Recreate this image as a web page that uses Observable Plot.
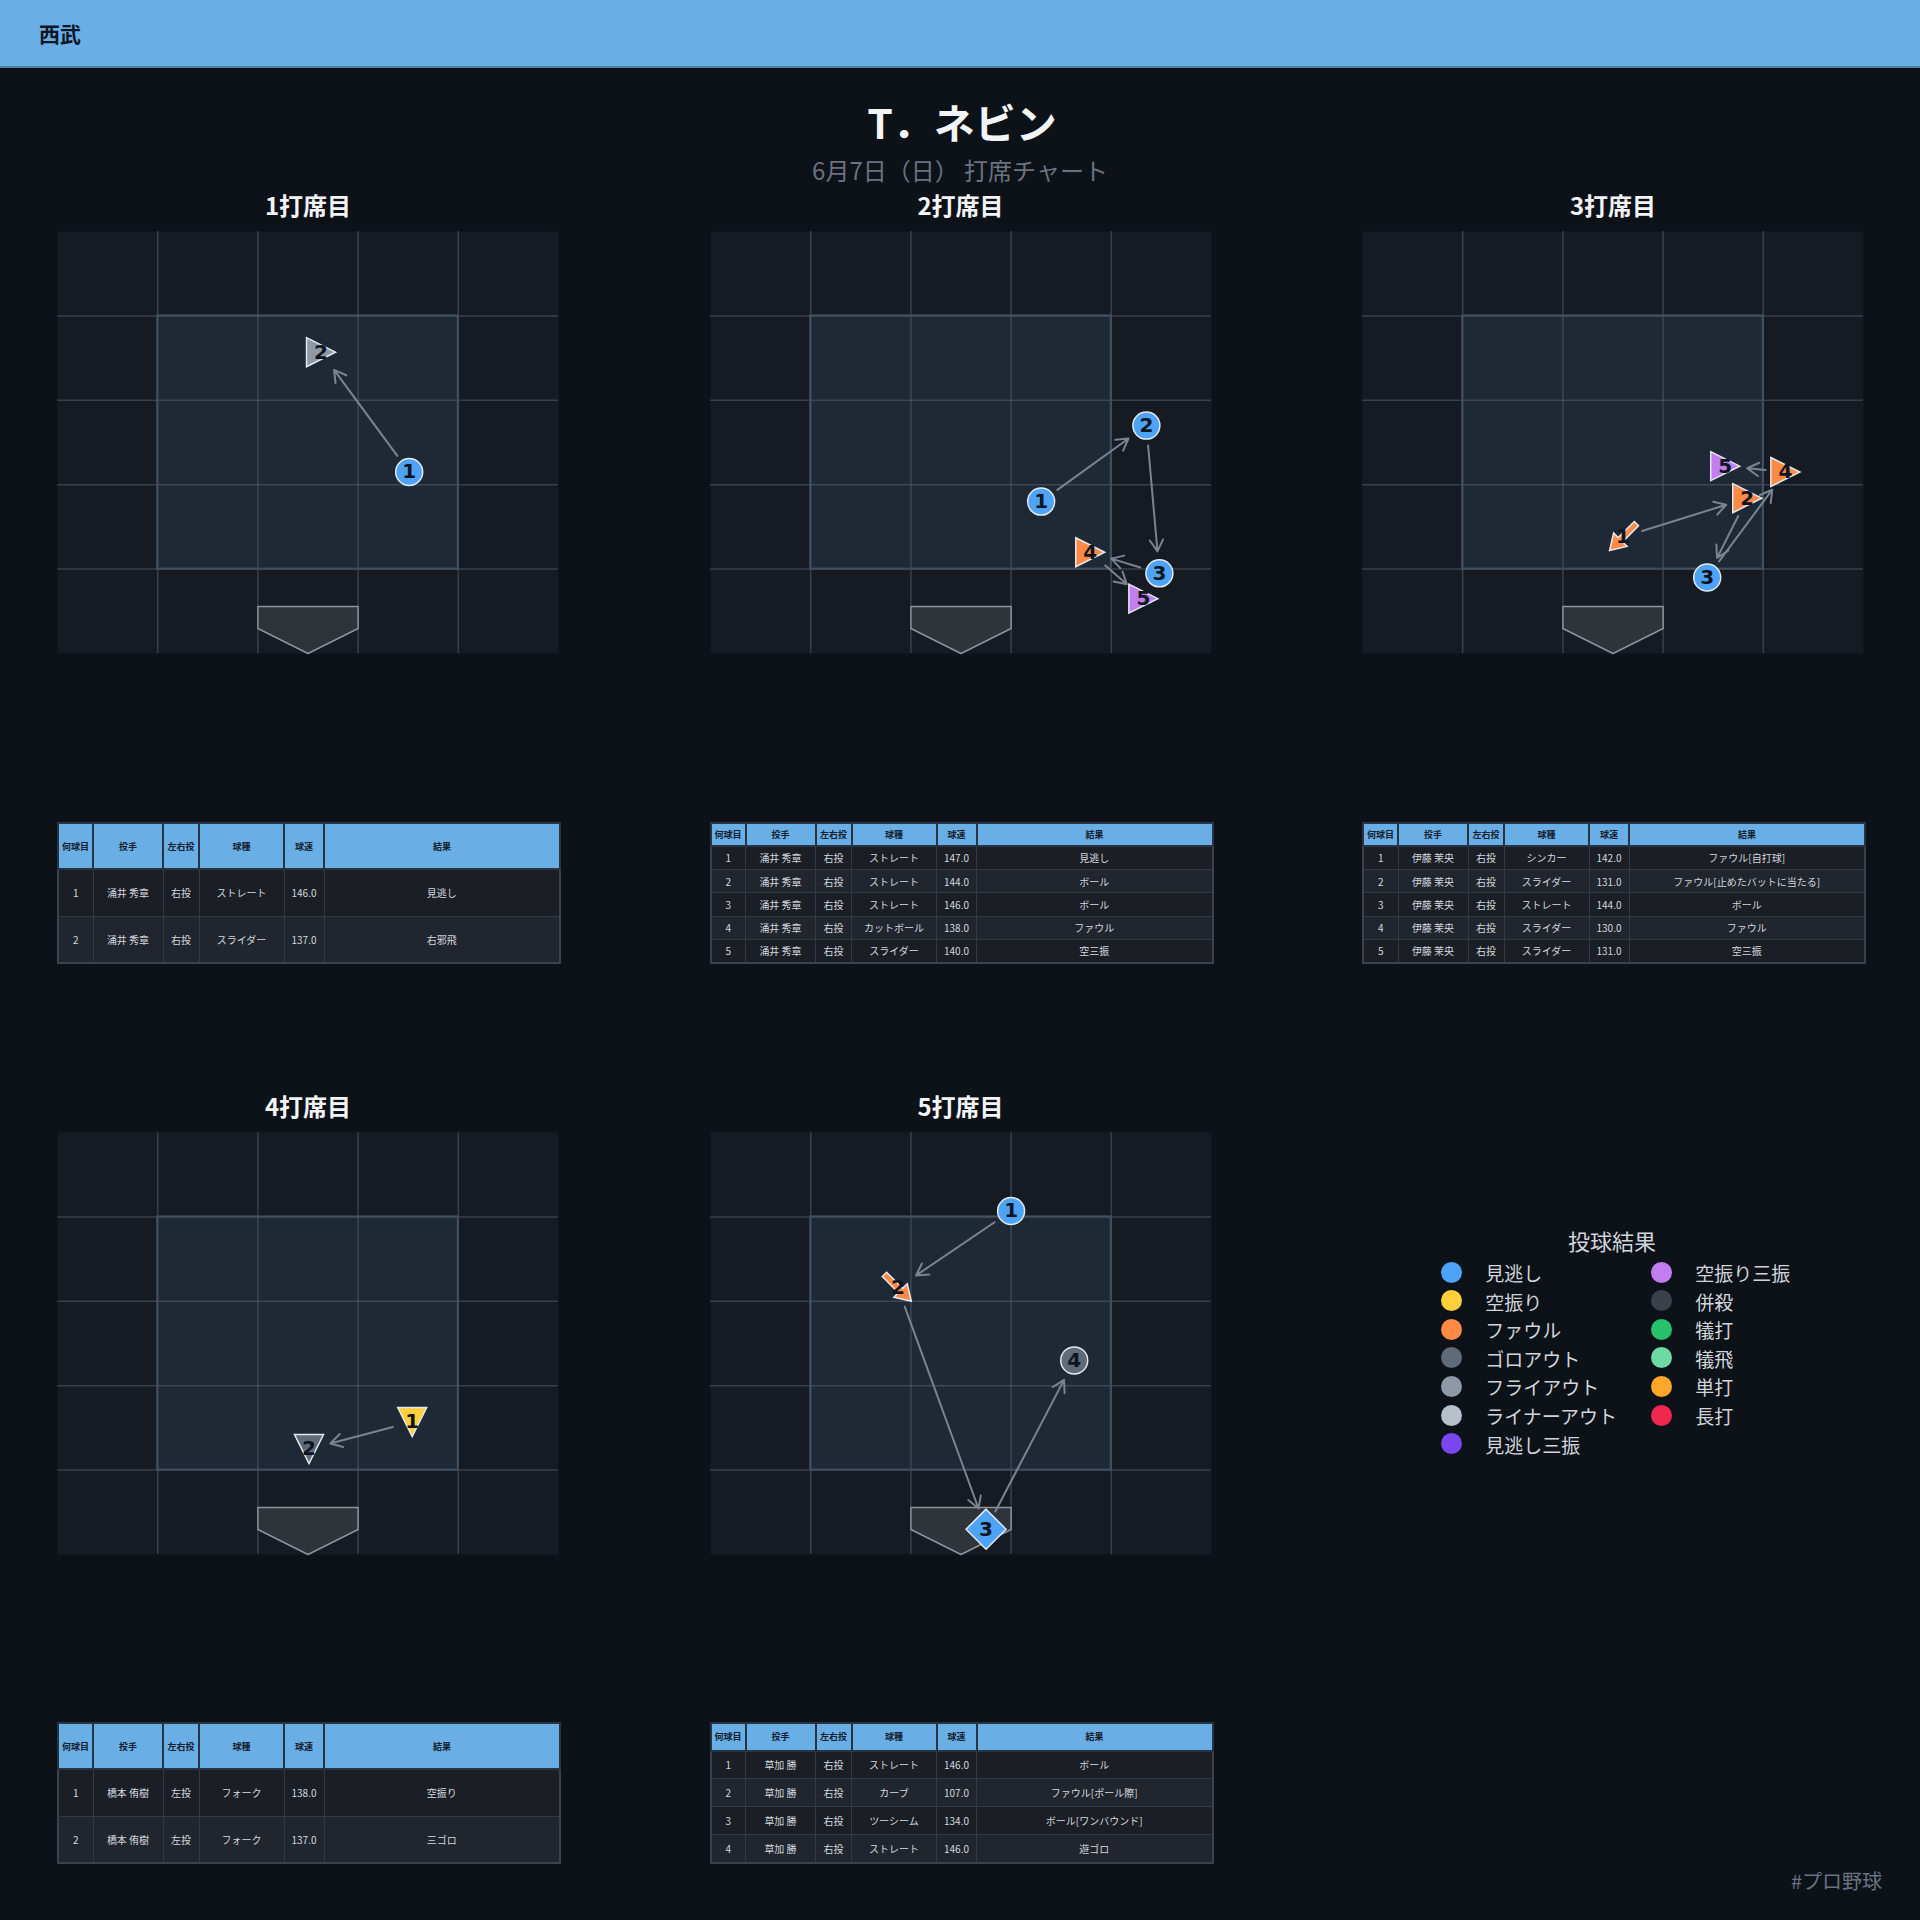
<!DOCTYPE html>
<html>
<head>
<meta charset="utf-8">
<script src="https://cdn.jsdelivr.net/npm/d3@7"></script>
<script src="https://cdn.jsdelivr.net/npm/@observablehq/plot@0.6"></script>
<style>
  html, body { margin: 0; padding: 0; background: #0d1118; }
  body { font-family: "Noto Sans CJK JP", "Noto Sans", sans-serif; }
  #root { position: relative; width: 1920px; height: 1920px; overflow: hidden; background: #0d1118; }
  .abs { position: absolute; white-space: nowrap; line-height: 1; }
  .center { transform: translate(-50%, -50%); }
  .band { position: absolute; left: 0; top: 0; width: 1920px; height: 66px; background: #6aaee6; border-bottom: 2px solid #4b7fae; }
  table.t { position: absolute; width: 502px; height: 140px; border-collapse: collapse; table-layout: fixed; border: 2px solid #3a424f; }
  table.t th { background: #6aaee6; color: #14212e; font-size: 9px; font-weight: 700; border: 2px solid #263444; padding: 0; text-align: center; }
  table.t td { color: #d3d8df; font-size: 10px; text-align: center; border: 1.5px solid #343a44; padding: 0; }
  table.t tbody tr:nth-child(odd) td { background: #1b1e25; }
  table.t tbody tr:nth-child(even) td { background: #21252d; }
</style>
</head>
<body>
<div id="root"></div>
<script>
// ---------------- DATA ----------------
const teamName = "西武";
const playerName = "T．ネビン";
const subtitleText = "6月7日（日） 打席チャート";
const hashtagText = "#プロ野球";
const atBatLabels = ["1打席目", "2打席目", "3打席目", "4打席目", "5打席目"];

const pitchAtBat = [1, 1, 2, 2, 2, 2, 2, 3, 3, 3, 3, 3, 4, 4, 5, 5, 5, 5];
const pitchNum   = [1, 2, 1, 2, 3, 4, 5, 1, 2, 3, 4, 5, 1, 2, 1, 2, 3, 4];
// location in zone-grid units (5 x 5 grid, strike zone = 1..4)
const pitchX = [3.51, 2.63, 3.30, 4.35, 4.48, 3.79, 4.32, 2.60, 3.84, 3.44, 4.22, 3.62, 3.54, 2.51, 3.00, 1.87, 2.75, 3.63];
const pitchY = [2.15, 3.57, 1.80, 2.70, 0.95, 1.20, 0.65, 1.38, 1.84, 0.90, 2.15, 2.22, 1.57, 1.25, 4.07, 3.16, 0.30, 2.30];
const pitcherName = ["涌井 秀章", "涌井 秀章", "涌井 秀章", "涌井 秀章", "涌井 秀章", "涌井 秀章", "涌井 秀章",
  "伊藤 茉央", "伊藤 茉央", "伊藤 茉央", "伊藤 茉央", "伊藤 茉央", "橋本 侑樹", "橋本 侑樹",
  "草加 勝", "草加 勝", "草加 勝", "草加 勝"];
const throwHand = ["右投", "右投", "右投", "右投", "右投", "右投", "右投", "右投", "右投", "右投", "右投", "右投",
  "左投", "左投", "右投", "右投", "右投", "右投"];
const pitchType = ["ストレート", "スライダー", "ストレート", "ストレート", "ストレート", "カットボール", "スライダー",
  "シンカー", "スライダー", "ストレート", "スライダー", "スライダー", "フォーク", "フォーク",
  "ストレート", "カーブ", "ツーシーム", "ストレート"];
const pitchSpeed = [146.0, 137.0, 147.0, 144.0, 146.0, 138.0, 140.0, 142.0, 131.0, 144.0, 130.0, 131.0,
  138.0, 137.0, 146.0, 107.0, 134.0, 146.0];
const resultText = ["見逃し", "右邪飛", "見逃し", "ボール", "ボール", "ファウル", "空三振",
  "ファウル[自打球]", "ファウル[止めたバットに当たる]", "ボール", "ファウル", "空三振",
  "空振り", "三ゴロ", "ボール", "ファウル[ポール際]", "ボール[ワンバウンド]", "遊ゴロ"];
const resultCategory = ["見逃し", "フライアウト", "見逃し", "見逃し", "見逃し", "ファウル", "空振り三振",
  "ファウル", "ファウル", "見逃し", "ファウル", "空振り三振",
  "空振り", "ゴロアウト", "見逃し", "ファウル", "見逃し", "ゴロアウト"];

const legendCategories = ["見逃し", "空振り", "ファウル", "ゴロアウト", "フライアウト", "ライナーアウト", "見逃し三振",
  "空振り三振", "併殺", "犠打", "犠飛", "単打", "長打"];
const legendColors = ["#4da3f7", "#ffd03a", "#ff8a45", "#5f6b78", "#8e98a6", "#b8c0cb", "#7a46f0",
  "#c27ef0", "#3b414b", "#27c06b", "#6fd9a3", "#ffa62b", "#f0284f"];
const legendTitle = "投球結果";

const tableHeaders = ["何球目", "投手", "左右投", "球種", "球速", "結果"];

// zone geometry (grid units)
const gridLines = [1, 2, 3, 4];
const zoneX = [1, 4];
const zoneY = [1, 4];
const homePlateX = [2, 3, 3, 2.5, 2, 2];
const homePlateY = [0.557, 0.557, 0.296, 0, 0.296, 0.557];

// ---------------- STYLE / LAYOUT ----------------
const pitchTypeShape = {"ストレート": "circle", "スライダー": "triRight", "カットボール": "triRight",
  "フォーク": "triDown", "シンカー": "arrowDL", "カーブ": "arrowDR", "ツーシーム": "diamond"};
const W = 501, H = 422;
const colLeft = [57, 709.5, 1362];
const rowTop = [230.7, 1131.7];
const tableTop = [821.7, 1721.7];
const colWidths = [35, 70, 36, 85, 40, 236];

function poly(pts) {
  return {draw(ctx, size) {
    const k = Math.sqrt(size / Math.PI);
    ctx.moveTo(pts[0][0] * k, pts[0][1] * k);
    for (let i = 1; i < pts.length; i++) ctx.lineTo(pts[i][0] * k, pts[i][1] * k);
    ctx.closePath();
  }};
}
function rot(pts, deg) {
  const a = deg * Math.PI / 180, c = Math.cos(a), s = Math.sin(a);
  return pts.map(([x, y]) => [x * c - y * s, x * s + y * c]);
}
const arrowBase = [[-1, -0.16], [0.2, -0.16], [0.2, -0.5], [1, 0], [0.2, 0.5], [0.2, 0.16], [-1, 0.16]];
const shapes = {
  circle: {symbol: "circle", r: 13.5},
  triRight: {symbol: poly([[-1, -1], [1, 0], [-1, 1]]), r: 14.5},
  triDown: {symbol: poly([[-1, -1], [1, -1], [0, 1]]), r: 14.5},
  diamond: {symbol: poly([[0, -1], [1, 0], [0, 1], [-1, 0]]), r: 20},
  arrowDL: {symbol: poly(rot(arrowBase, 135)), r: 19},
  arrowDR: {symbol: poly(rot(arrowBase, 45)), r: 19}
};

const pitches = pitchAtBat.map((ab, i) => ({
  ab, num: pitchNum[i], x: pitchX[i], y: pitchY[i], pitcher: pitcherName[i], hand: throwHand[i],
  type: pitchType[i], speed: pitchSpeed[i], result: resultText[i], cat: resultCategory[i],
  shape: pitchTypeShape[pitchType[i]]
}));

const root = document.getElementById("root");
function addText(txt, x, y, css, centered = true) {
  const d = document.createElement("div");
  d.className = "abs" + (centered ? " center" : "");
  d.textContent = txt;
  d.style.left = x + "px";
  d.style.top = y + "px";
  Object.assign(d.style, css);
  root.appendChild(d);
  return d;
}

// header band
const band = document.createElement("div");
band.className = "band";
root.appendChild(band);
addText(teamName, 39, 33, {fontSize: "21px", fontWeight: "700", color: "#0e1726", transform: "translate(0,-50%)"}, false);
addText(playerName, 962, 121, {fontSize: "41px", fontWeight: "700", color: "#f3f4f6"});
addText(subtitleText, 960, 170, {fontSize: "24px", fontWeight: "400", color: "#6b7280"});

// panels
atBatLabels.forEach((label, k) => {
  const col = k % 3, row = Math.floor(k / 3);
  const left = colLeft[col], top = rowTop[row];
  const data = pitches.filter(d => d.ab === k + 1);
  const links = [];
  for (let i = 0; i + 1 < data.length; i++) {
    links.push({x1: data[i].x, y1: data[i].y, x2: data[i + 1].x, y2: data[i + 1].y});
  }
  const shapeMarks = Object.keys(shapes).map(s => Plot.dot(data.filter(d => d.shape === s), {
    x: "x", y: "y", fill: "cat", symbol: shapes[s].symbol, r: shapes[s].r,
    stroke: "#e3e8ef", strokeWidth: 1.5
  }));
  const svg = Plot.plot({
    width: W, height: H, margin: 0,
    x: {domain: [0, 5], axis: null},
    y: {domain: [0, 5], axis: null},
    color: {domain: legendCategories, range: legendColors},
    style: {background: "transparent", overflow: "visible"},
    marks: [
      Plot.frame({fill: "#161a22", stroke: "none"}),
      Plot.rect([0], {x1: () => zoneX[0], x2: () => zoneX[1], y1: () => zoneY[0], y2: () => zoneY[1], fill: "#1f2935"}),
      Plot.ruleX(gridLines, {stroke: "#55606f", strokeOpacity: 0.55, strokeWidth: 1.5}),
      Plot.ruleY(gridLines, {stroke: "#55606f", strokeOpacity: 0.55, strokeWidth: 1.5}),
      Plot.rect([0], {x1: () => zoneX[0], x2: () => zoneX[1], y1: () => zoneY[0], y2: () => zoneY[1], fill: "none", stroke: "#41505f", strokeWidth: 2}),
      Plot.line(homePlateX.map((x, i) => ({x, y: homePlateY[i]})), {x: "x", y: "y", fill: "#2f333a", stroke: "#8d949c", strokeWidth: 1.5}),
      Plot.arrow(links, {x1: "x1", y1: "y1", x2: "x2", y2: "y2", stroke: "#7a8491", strokeWidth: 2,
        headLength: 10, insetStart: 20, insetEnd: 22}),
      ...shapeMarks,
      Plot.text(data, {x: "x", y: "y", text: d => String(d.num), fill: "#0f1520", fontSize: 20,
        fontWeight: "bold", fontFamily: "DejaVu Sans, sans-serif"})
    ]
  });
  svg.style.position = "absolute";
  svg.style.left = left + "px";
  svg.style.top = top + "px";
  svg.style.maxWidth = "none";
  root.appendChild(svg);

  addText(label, left + 251, top - 26, {fontSize: "24px", fontWeight: "700", color: "#f3f4f6"});

  // table
  const table = document.createElement("table");
  table.className = "t";
  table.style.left = left + "px";
  table.style.top = tableTop[row] + "px";
  const rowH = 140 / (data.length + 1);
  const cg = document.createElement("colgroup");
  colWidths.forEach(w => { const c = document.createElement("col"); c.style.width = w + "px"; cg.appendChild(c); });
  table.appendChild(cg);
  const thead = document.createElement("thead");
  const htr = document.createElement("tr");
  htr.style.height = rowH + "px";
  tableHeaders.forEach(h => { const th = document.createElement("th"); th.textContent = h; htr.appendChild(th); });
  thead.appendChild(htr);
  table.appendChild(thead);
  const tbody = document.createElement("tbody");
  data.forEach(d => {
    const tr = document.createElement("tr");
    tr.style.height = rowH + "px";
    [String(d.num), d.pitcher, d.hand, d.type, d.speed.toFixed(1), d.result].forEach(v => {
      const td = document.createElement("td"); td.textContent = v; tr.appendChild(td);
    });
    tbody.appendChild(tr);
  });
  table.appendChild(tbody);
  root.appendChild(table);
});

// legend
addText(legendTitle, 1612, 1240, {fontSize: "22px", color: "#d1d5db"});
legendCategories.forEach((c, i) => {
  const colIdx = i < 7 ? 0 : 1, r = i < 7 ? i : i - 7;
  const cx = colIdx === 0 ? 1451.7 : 1661.7;
  const cy = 1272 + r * 28.6;
  const dot = document.createElement("div");
  Object.assign(dot.style, {position: "absolute", left: (cx - 10.5) + "px", top: (cy - 10.5) + "px",
    width: "21px", height: "21px", borderRadius: "50%", background: legendColors[i]});
  root.appendChild(dot);
  addText(c, cx + 33.5, cy, {fontSize: "19px", color: "#d1d5db", transform: "translate(0,-50%)"}, false);
});

addText(hashtagText, 1882, 1881, {fontSize: "20px", color: "#6b7280", transform: "translate(-100%,-50%)"}, false);
</script>
</body>
</html>
